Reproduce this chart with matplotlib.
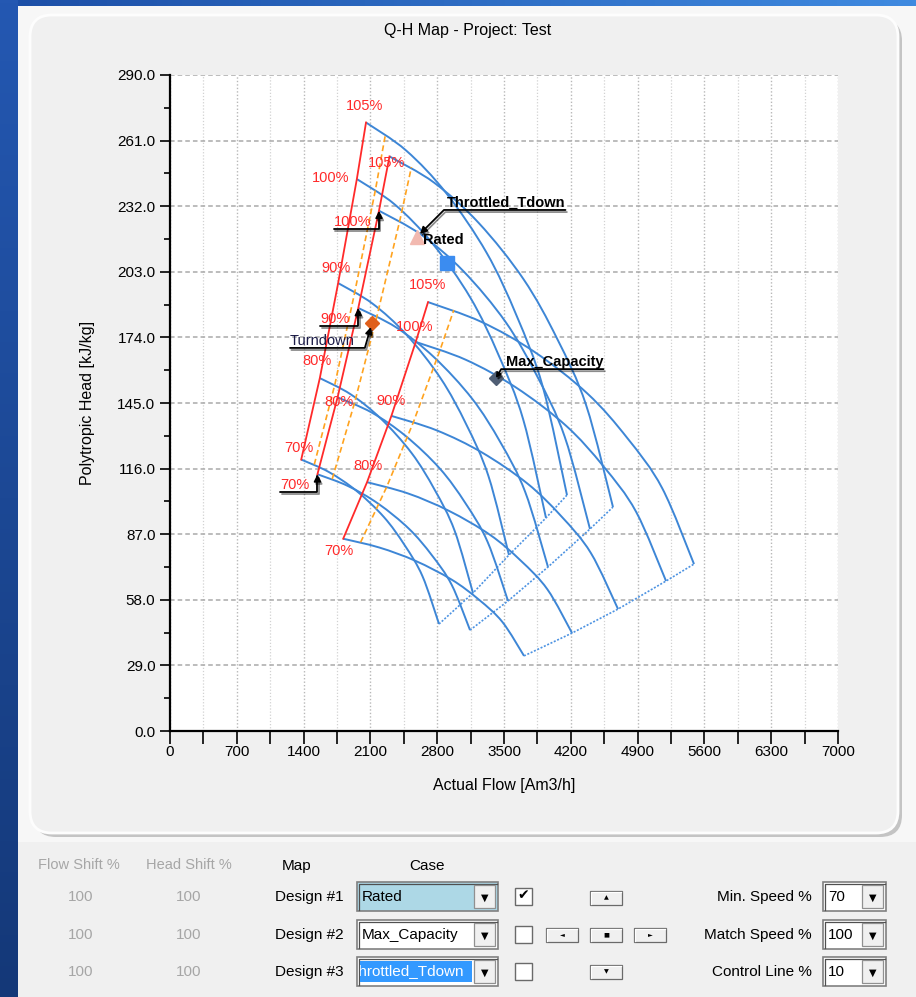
import numpy as np
import matplotlib
matplotlib.use('Agg')
import matplotlib.pyplot as plt
from matplotlib.patches import FancyBboxPatch, Rectangle, PathPatch
from matplotlib.path import Path
from matplotlib.ticker import MultipleLocator, FormatStrFormatter
from matplotlib.colors import LinearSegmentedColormap
import matplotlib.patheffects as pe

plt.rcParams['font.family'] = ['Liberation Sans', 'DejaVu Sans']

speeds = ['70%', '80%', '90%', '100%', '105%']

# speed lines per map, surge end first, choke end last  (Am3/h, kJ/kg)
map_a_flow = [[1375, 1664, 1953, 2241, 2458, 2646, 2819],
              [1570, 1891, 2212, 2533, 2774, 2982, 3175],
              [1762, 2120, 2478, 2836, 3105, 3337, 3552],
              [1958, 2354, 2751, 3147, 3444, 3702, 3940],
              [2054, 2475, 2896, 3318, 3634, 3907, 4160]]
map_a_head = [[120.0, 114.5, 106.2, 94.6, 82.2, 68.4, 47.3],
              [156.0, 148.9, 138.0, 122.8, 106.6, 88.6, 61.0],
              [198.0, 189.0, 175.2, 155.9, 135.5, 112.7, 77.8],
              [244.0, 232.8, 215.5, 191.6, 166.1, 137.6, 94.2],
              [269.0, 256.6, 237.7, 211.4, 183.4, 152.1, 104.3]]

map_b_flow = [[1545, 1865, 2185, 2504, 2744, 2952, 3144],
              [1756, 2113, 2470, 2828, 3096, 3328, 3542],
              [1973, 2371, 2768, 3166, 3464, 3722, 3961],
              [2190, 2632, 3074, 3517, 3848, 4136, 4401],
              [2300, 2768, 3237, 3705, 4057, 4361, 4642]]
map_b_head = [[113.5, 108.3, 100.4, 89.4, 77.7, 64.6, 44.6],
              [147.5, 140.8, 130.4, 116.0, 100.7, 83.6, 57.5],
              [187.0, 178.4, 165.2, 146.9, 127.5, 105.7, 72.5],
              [230.0, 219.4, 203.3, 180.8, 156.8, 130.1, 89.3],
              [254.0, 242.4, 224.5, 199.7, 173.4, 144.0, 99.0]]

map_c_flow = [[1815, 2194, 2573, 2952, 3236, 3483, 3710],
              [2065, 2495, 2924, 3354, 3676, 3955, 4213],
              [2320, 2795, 3270, 3745, 4101, 4410, 4695],
              [2575, 3100, 3624, 4149, 4542, 4883, 5198],
              [2704, 3261, 3819, 4376, 4794, 5157, 5491]]
map_c_head = [[85.0, 81.1, 75.2, 66.9, 58.1, 48.2, 33.2],
              [110.0, 105.0, 97.3, 86.7, 75.3, 62.6, 43.3],
              [139.3, 132.9, 123.1, 109.4, 94.9, 78.7, 53.9],
              [172.0, 164.1, 151.9, 135.0, 117.0, 97.0, 66.3],
              [189.6, 180.9, 167.6, 149.1, 129.4, 107.4, 73.8]]

# 10 % control lines
ctrl_a_flow = [1512, 1727, 1938, 2154, 2259]
ctrl_a_head = [117.8, 153.1, 194.4, 239.5, 264.1]
ctrl_b_flow = [1700, 1932, 2170, 2409, 2530]
ctrl_b_head = [111.4, 144.8, 183.6, 225.8, 249.3]
ctrl_c_flow = [1997, 2272, 2552, 2833, 2974]
ctrl_c_head = [83.4, 108.0, 136.7, 168.8, 186.1]

# operating points
rated = (2903, 206.9)
throttled = (2588, 218.4)
max_capacity = (3416, 156.0)
turndown = (2117, 180.4)

BLUE = '#3d86d6'
RED = '#ff2a2a'
ORANGE = '#ffa31f'

fig = plt.figure(figsize=(9.16, 9.97), dpi=100)
fig.patch.set_facecolor('#f0f0f0')

# ---- window background / panel (pixel coords) ----
bg = fig.add_axes([0, 0, 1, 1], zorder=0)
top_cm = LinearSegmentedColormap.from_list('top', ['#1c4ea6', '#3f8ae0'])
left_cm = LinearSegmentedColormap.from_list('left', ['#2458b2', '#143878'])
bg.imshow(np.linspace(0, 1, 256).reshape(1, -1), extent=[0, 916, 6, 0],
          cmap=top_cm, aspect='auto', zorder=1)
bg.imshow(np.linspace(0, 1, 256).reshape(-1, 1), extent=[0, 18, 997, 0],
          cmap=left_cm, aspect='auto', zorder=1)
bg.add_patch(Rectangle((18, 6), 898, 836, fc='#f7f7f7', ec='none', zorder=0.5))
bg.add_patch(FancyBboxPatch((34, 19), 868, 818, boxstyle='round,pad=0,rounding_size=22',
                            fc='#c4c4c4', ec='none', zorder=1.5))
bg.add_patch(FancyBboxPatch((30, 15), 868, 818, boxstyle='round,pad=0,rounding_size=22',
                            fc='#f0f0f0', ec='#fdfdfd', lw=2, zorder=2))
bg.text(468, 30, 'Q-H Map - Project: Test', ha='center', va='center', fontsize=11.5)


def combo(x, y, w, h, text, face='white', selected=False):
    bg.add_patch(Rectangle((x, y), w, h, fc=face, ec='#808080', lw=1.2, zorder=3))
    bg.plot([x + 1.5, x + 1.5, x + w - 1.5], [y + h - 1.5, y + 1.5, y + 1.5],
            color='#505050', lw=0.9, zorder=4)
    bx = x + w - 24
    bg.add_patch(Rectangle((bx, y + 3), 21, h - 6, fc='#f0f0f0', ec='#909090', lw=0.9, zorder=4))
    bg.text(bx + 10.5, y + h / 2 + 1, '\u25bc', ha='center', va='center', fontsize=7,
            family='DejaVu Sans', zorder=5)
    if selected:
        hl = Rectangle((x + 3, y + 4), w - 29, h - 8, fc='#3399ff', ec='none', zorder=4)
        bg.add_patch(hl)
        t = bg.text(x - 7, y + h / 2, text, ha='left', va='center', fontsize=11,
                    color='white', zorder=5, clip_on=True)
        t.set_clip_path(hl)
    else:
        bg.text(x + 5, y + h / 2, text, ha='left', va='center', fontsize=11, zorder=5)


def button(cx, cy, glyph):
    bg.add_patch(Rectangle((cx - 16, cy - 7), 32, 14, fc='#f0f0f0', ec='#6a6a6a', lw=0.9, zorder=3))
    bg.plot([cx - 15, cx - 15, cx + 15], [cy + 6, cy - 6, cy - 6], color='white', lw=0.9, zorder=4)
    bg.text(cx, cy, glyph, ha='center', va='center', fontsize=4.5, family='DejaVu Sans', zorder=5)


def checkbox(x, y, checked):
    bg.add_patch(Rectangle((x, y), 17, 17, fc='white', ec='#6a6a6a', lw=1.0, zorder=3))
    if checked:
        bg.text(x + 8.5, y + 7.5, '\u2714', ha='center', va='center', fontsize=10,
                family='DejaVu Sans', zorder=4)


gray_txt = '#a6a6a6'
bg.text(79, 865, 'Flow Shift %', ha='center', va='center', fontsize=10.5, color=gray_txt)
bg.text(189, 865, 'Head Shift %', ha='center', va='center', fontsize=10.5, color=gray_txt)
bg.text(297, 866, 'Map', ha='center', va='center', fontsize=11)
bg.text(427, 866, 'Case', ha='center', va='center', fontsize=11)

rows = [897, 935, 972]
cases = ['Rated', 'Max_Capacity', 'Throttled_Tdown']
faces = ['#add8e6', 'white', 'white']
right_labels = ['Min. Speed %', 'Match Speed %', 'Control Line %']
right_values = ['70', '100', '10']
for i, cy in enumerate(rows):
    bg.text(81, cy, '100', ha='center', va='center', fontsize=11, color=gray_txt)
    bg.text(189, cy, '100', ha='center', va='center', fontsize=11, color=gray_txt)
    bg.text(309, cy, f'Design #{i + 1}', ha='center', va='center', fontsize=11)
    combo(357, cy - 15, 141, 29, cases[i], face=faces[i], selected=(i == 2))
    checkbox(515, cy - 9, i == 0)
    bg.text(812, cy, right_labels[i], ha='right', va='center', fontsize=11)
    combo(823, cy - 15, 63, 29, right_values[i])

button(606, 898, '\u25b2')
button(562, 935, '\u25c4')
button(606, 935, '\u25a0')
button(650, 935, '\u25ba')
button(606, 972, '\u25bc')

bg.set_xlim(0, 916)
bg.set_ylim(997, 0)
bg.axis('off')

# ---- Q-H map ----
ax = fig.add_axes([170 / 916, 1 - 731 / 997, 668 / 916, 656 / 997], zorder=2)
ax.set_facecolor('white')
ax.set_xlim(0, 7000)
ax.set_ylim(0, 290)
ax.xaxis.set_major_locator(MultipleLocator(700))
ax.xaxis.set_minor_locator(MultipleLocator(350))
ax.yaxis.set_major_locator(MultipleLocator(29))
ax.yaxis.set_minor_locator(MultipleLocator(14.5))
ax.yaxis.set_major_formatter(FormatStrFormatter('%.1f'))
ax.grid(which='minor', axis='x', color='#d2d2d2', ls=(0, (1, 1.5)), lw=0.9)
ax.grid(which='major', axis='x', color='#b8b8b8', ls=(0, (1, 1.5)), lw=1.0)
ax.grid(which='major', axis='y', color='#a9a9a9', ls=(0, (3, 2)), lw=1.1)
for s in ('top', 'right'):
    ax.spines[s].set_visible(False)
for s in ('left', 'bottom'):
    ax.spines[s].set_linewidth(1.6)
ax.tick_params(axis='both', which='both', direction='out', width=1.2, labelsize=11)
ax.tick_params(axis='x', which='both', length=9, pad=1)
ax.tick_params(axis='y', which='major', length=7)
ax.tick_params(axis='y', which='minor', length=4)
ax.set_xlabel('Actual Flow [Am3/h]', fontsize=11.5)
ax.set_ylabel('Polytropic Head [kJ/kg]', fontsize=11.5)
ax.xaxis.set_label_coords(0.5, (731 - 778) / 656)
ax.yaxis.set_label_coords((95 - 170) / 668, 0.5)


def smooth(q, h):
    # Catmull-Rom through the listed points, drawn as cubic Bezier segments
    p = np.column_stack([q, h]).astype(float)
    ext = np.vstack([p[0], p, p[-1]])
    verts, codes = [p[0]], [Path.MOVETO]
    for i in range(len(p) - 1):
        p0, p1, p2, p3 = ext[i], ext[i + 1], ext[i + 2], ext[i + 3]
        verts += [p1 + (p2 - p0) / 6, p2 - (p3 - p1) / 6, p2]
        codes += [Path.CURVE4] * 3
    return Path(verts, codes)


maps = [(map_a_flow, map_a_head, ctrl_a_flow, ctrl_a_head),
        (map_b_flow, map_b_head, ctrl_b_flow, ctrl_b_head),
        (map_c_flow, map_c_head, ctrl_c_flow, ctrl_c_head)]
for flows, heads, cq, ch in maps:
    for q, h in zip(flows, heads):
        ax.add_patch(PathPatch(smooth(q, h), fc='none', ec=BLUE, lw=1.4, zorder=2))
    ax.plot([q[-1] for q in flows], [h[-1] for h in heads], color='#4d93e2',
            lw=1.2, ls=(0, (1.2, 1.0)), zorder=2)
    ax.plot(cq, ch, color=ORANGE, lw=1.2, ls=(0, (3.5, 2)), zorder=3)
    ax.plot([q[0] for q in flows], [h[0] for h in heads], color=RED, lw=1.3, zorder=4)

ax.plot(*throttled, marker='^', ms=10, color='#f2b9b0', zorder=6)
ax.plot(*rated, marker='s', ms=10, color='#3b8cf0', zorder=6)
ax.plot(*max_capacity, marker='D', ms=7, color='#4f5e74', zorder=6)
ax.plot(*turndown, marker='D', ms=7, color='#e0601c', zorder=6)

ARROW = dict(arrowstyle='-|>', color='black', lw=1.3, shrinkA=0, patchA=None)
SHADOW = [pe.SimpleLineShadow(offset=(1, -1.5), alpha=0.45), pe.Normal()]

# speed labels, pixel offsets from each surge point
label_offsets = [
    [(-2, 12), (-3, 17), (-2, 15), (-26, 1), (-1, 17)],
    [None, (1, -5), None, None, (-3, -7)],
    [(-4, -12), (1, 16), (0, 15), (-1, 15), (0, 17)],
]
callout_offsets = {0: (-37, -18), 2: (-38, -18), 3: (-45, -18)}
for m, (flows, heads, _, _) in enumerate(maps):
    for k, name in enumerate(speeds):
        pt = (flows[k][0], heads[k][0])
        off = label_offsets[m][k]
        if off is not None:
            ax.annotate(name, pt, xytext=off, textcoords='offset pixels', ha='center',
                        va='center', color=RED, fontsize=10.5, zorder=7)
        else:
            a = ax.annotate(name, pt, xytext=callout_offsets[k], textcoords='offset pixels',
                            ha='left', va='bottom', color=RED, fontsize=10.5, zorder=7,
                            arrowprops=dict(ARROW, shrinkB=0, relpos=(0, 0), mutation_scale=10,
                                            connectionstyle='angle,angleA=0,angleB=90,rad=0'))
            a.arrow_patch.set_path_effects(SHADOW)


def callout(text, pt, off, relpos, angle_b, shrink=3, head=10, color='black', weight='bold'):
    a = ax.annotate(text, pt, xytext=off, textcoords='offset pixels', ha='left',
                    va='bottom', color=color, fontsize=10.5, fontweight=weight, zorder=8,
                    arrowprops=dict(ARROW, shrinkB=shrink, relpos=relpos, mutation_scale=head,
                                    connectionstyle=f'angle,angleA=0,angleB={angle_b},rad=0'))
    a.arrow_patch.set_path_effects(SHADOW)
    return a


callout('Throttled_Tdown', throttled, (30, 27), (1, 0), 45)
callout('Max_Capacity', max_capacity, (10, 9), (1, 0), 60, shrink=0, head=7)
callout('Turndown', turndown, (-82, -25), (0, 0), 74, color='#1c1c48', weight='normal')
ax.annotate('Rated', rated, xytext=(-24, 23), textcoords='offset pixels', ha='left',
            va='center', fontsize=10.5, fontweight='bold', zorder=8)

fig.savefig('out.png', dpi=100, facecolor=fig.get_facecolor())
